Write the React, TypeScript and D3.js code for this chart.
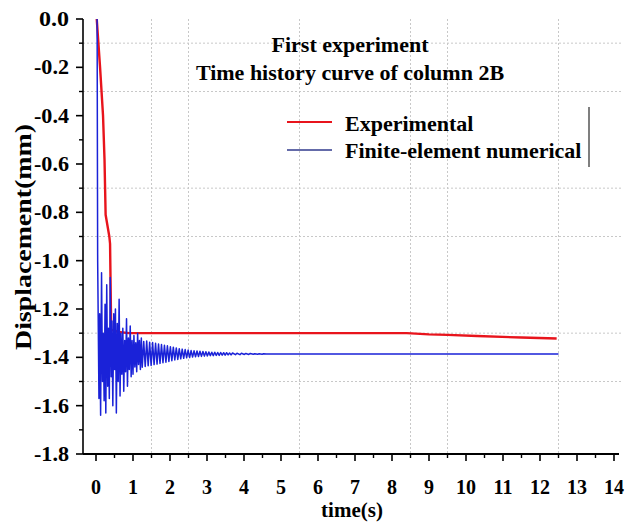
import React from "react";
import * as d3 from "d3";

const W = 625;
const H = 522;

const xTicks = [0, 1, 2, 3, 4, 5, 6, 7, 8, 9, 10, 11, 12, 13, 14];
const yTicks = [0.0, -0.2, -0.4, -0.6, -0.8, -1.0, -1.2, -1.4, -1.6, -1.8];
const xGrid = [1.5, 2.5, 5.5, 8.5, 9.5, 12.5];
const yGrid = [-0.1, -0.3, -0.7, -0.9, -1.3, -1.5];

const titleLines = ["First experiment", "Time history curve of column 2B"];
const seriesNames = ["Experimental", "Finite-element numerical"];

// Experimental (red) : [time, displacement]
const experimental: [number, number][] = [
  [0.02, 0.0], [0.11, -0.2], [0.19, -0.4], [0.23, -0.58], [0.26, -0.81],
  [0.36, -0.9], [0.38, -0.93], [0.41, -1.285], [0.6, -1.295], [0.9, -1.3],
  [8.4, -1.3], [9.0, -1.305], [9.5, -1.307], [10.3, -1.312], [11.5, -1.318],
  [12.45, -1.322],
];

// Finite-element numerical (blue) : [time, displacement]
const numerical: [number, number][] = [
  [0.03, 0.0], [0.045, -1.0], [0.08, -1.57], [0.1, -1.22],
  [0.125, -1.64], [0.15, -1.05], [0.175, -1.5], [0.195, -1.3],
  [0.22, -1.58], [0.245, -1.18], [0.265, -1.63], [0.29, -1.1],
  [0.315, -1.52], [0.335, -1.28], [0.36, -1.57], [0.385, -1.07],
  [0.41, -1.48], [0.43, -1.25], [0.455, -1.6], [0.48, -1.22],
  [0.505, -1.45], [0.525, -1.2], [0.55, -1.63], [0.575, -1.26],
  [0.6, -1.5], [0.625, -1.16], [0.65, -1.56], [0.675, -1.3],
  [0.7, -1.47], [0.725, -1.28], [0.75, -1.54], [0.775, -1.33],
  [0.8, -1.46], [0.825, -1.24], [0.85, -1.52], [0.875, -1.32],
  [0.9, -1.45], [0.925, -1.27], [0.95, -1.48], [0.975, -1.33],
  [1.0, -1.47], [1.025, -1.31], [1.05, -1.44], [1.075, -1.34],
  [1.1, -1.46], [1.125, -1.3], [1.15, -1.43], [1.175, -1.33],
  [1.2, -1.45], [1.225, -1.32], [1.25, -1.441], [1.29, -1.334],
  [1.33, -1.438], [1.37, -1.332], [1.41, -1.435], [1.45, -1.338],
  [1.49, -1.434], [1.53, -1.339], [1.57, -1.43], [1.61, -1.342],
  [1.65, -1.428], [1.69, -1.345], [1.73, -1.425], [1.77, -1.347],
  [1.81, -1.422], [1.85, -1.35], [1.89, -1.42], [1.93, -1.352],
  [1.97, -1.417], [2.01, -1.356], [2.05, -1.414], [2.09, -1.358],
  [2.13, -1.411], [2.17, -1.361], [2.21, -1.409], [2.25, -1.364],
  [2.29, -1.406], [2.33, -1.366], [2.37, -1.404], [2.41, -1.368],
  [2.45, -1.402], [2.49, -1.37], [2.53, -1.401], [2.57, -1.372],
  [2.61, -1.399], [2.65, -1.373], [2.69, -1.398], [2.73, -1.374],
  [2.77, -1.397], [2.81, -1.375], [2.85, -1.396], [2.89, -1.376],
  [2.93, -1.395], [2.97, -1.377], [3.01, -1.394], [3.05, -1.378],
  [3.09, -1.393], [3.13, -1.379], [3.17, -1.393], [3.21, -1.379],
  [3.25, -1.392], [3.29, -1.38], [3.33, -1.392], [3.37, -1.38],
  [3.41, -1.391], [3.45, -1.381], [3.49, -1.391], [3.53, -1.381],
  [3.57, -1.39], [3.61, -1.382], [3.65, -1.39], [3.69, -1.382],
  [3.77, -1.389], [3.81, -1.383], [3.89, -1.389], [3.93, -1.383],
  [4.01, -1.388], [4.05, -1.384], [4.13, -1.388], [4.17, -1.384],
  [4.25, -1.387], [4.29, -1.385], [4.37, -1.387], [4.41, -1.385],
  [4.49, -1.387], [4.53, -1.385], [4.6, -1.386], [12.5, -1.386],
];

const FONT = "'Liberation Serif', 'Times New Roman', serif";

export default function App() {
  const x = d3.scaleLinear().domain([0, 14]).range([96, 614]);
  const y = d3.scaleLinear().domain([-1.8, 0]).range([454, 19]);
  const x0 = 83;
  const line = d3
    .line<[number, number]>()
    .x((d) => x(d[0]))
    .y((d) => y(d[1]));

  const xMinor = d3.range(0.5, 14, 1);
  const yMinor = d3.range(-0.1, -1.81, -0.2);

  return (
    <svg
      width={W}
      height={H}
      style={{ position: "absolute", left: 0, top: 0, background: "#fff" }}
      fontFamily={FONT}
      fontWeight="bold"
    >
      <rect x={0} y={0} width={W} height={H} fill="#fff" />
      {/* grid */}
      {xGrid.map((g) => (
        <line key={"xg" + g} x1={x(g)} x2={x(g)} y1={y(0)} y2={y(-1.8)} stroke="#c8c8c8" strokeWidth={1} strokeDasharray="2,2" />
      ))}
      {yGrid.map((g) => (
        <line key={"yg" + g} x1={x0} x2={622} y1={y(g)} y2={y(g)} stroke="#c8c8c8" strokeWidth={1} strokeDasharray="2,2" />
      ))}

      {/* series */}
      <path d={line(experimental) || ""} fill="none" stroke="#e8141c" strokeWidth={2.4} strokeLinejoin="round" />
      <path d={line(numerical) || ""} fill="none" stroke="#1a22d8" strokeWidth={1.5} strokeLinejoin="round" />

      {/* axes */}
      <line x1={x0} x2={x0} y1={y(0)} y2={y(-1.8)} stroke="#000" strokeWidth={1.6} />
      <line x1={x0} x2={619} y1={y(-1.8)} y2={y(-1.8)} stroke="#000" strokeWidth={1.8} />
      {yTicks.map((t) => (
        <g key={"yt" + t}>
          <line x1={x0 - 7} x2={x0} y1={y(t)} y2={y(t)} stroke="#000" strokeWidth={1.6} />
          <text
            x={69}
            y={y(t)}
            dy="0.35em"
            textAnchor="end"
            fontSize={20}
            textLength={t === 0 ? 30 : 35}
            lengthAdjust="spacingAndGlyphs"
          >
            {t.toFixed(1)}
          </text>
        </g>
      ))}
      {yMinor.map((t) => (
        <line key={"ym" + t} x1={x0 - 4} x2={x0} y1={y(t)} y2={y(t)} stroke="#000" strokeWidth={1.4} />
      ))}
      {xTicks.map((t) => (
        <g key={"xt" + t}>
          <line x1={x(t)} x2={x(t)} y1={y(-1.8)} y2={y(-1.8) + 7} stroke="#000" strokeWidth={1.6} />
          <text x={x(t)} y={494} textAnchor="middle" fontSize={20}>
            {t}
          </text>
        </g>
      ))}
      {xMinor.map((t) => (
        <line key={"xm" + t} x1={x(t)} x2={x(t)} y1={y(-1.8)} y2={y(-1.8) + 4} stroke="#000" strokeWidth={1.4} />
      ))}

      {/* axis titles */}
      <text x={352} y={517} textAnchor="middle" fontSize={21}>time(s)</text>
      <text
        transform={`translate(31,237) rotate(-90)`}
        textAnchor="middle"
        fontSize={24}
        textLength={226}
        lengthAdjust="spacingAndGlyphs"
      >
        Displacement(mm)
      </text>

      {/* title */}
      <text x={350} y={52} textAnchor="middle" fontSize={22}>{titleLines[0]}</text>
      <text x={350} y={80} textAnchor="middle" fontSize={22}>{titleLines[1]}</text>

      {/* legend */}
      <line x1={287} x2={332} y1={122} y2={122} stroke="#e8141c" strokeWidth={2} />
      <text x={345} y={131} fontSize={22}>{seriesNames[0]}</text>
      <line x1={287} x2={332} y1={150} y2={150} stroke="#303a8c" strokeWidth={1.4} />
      <text x={345} y={158} fontSize={22}>{seriesNames[1]}</text>
      <line x1={589} x2={589} y1={107} y2={167} stroke="#555" strokeWidth={1.5} />
    </svg>
  );
}
